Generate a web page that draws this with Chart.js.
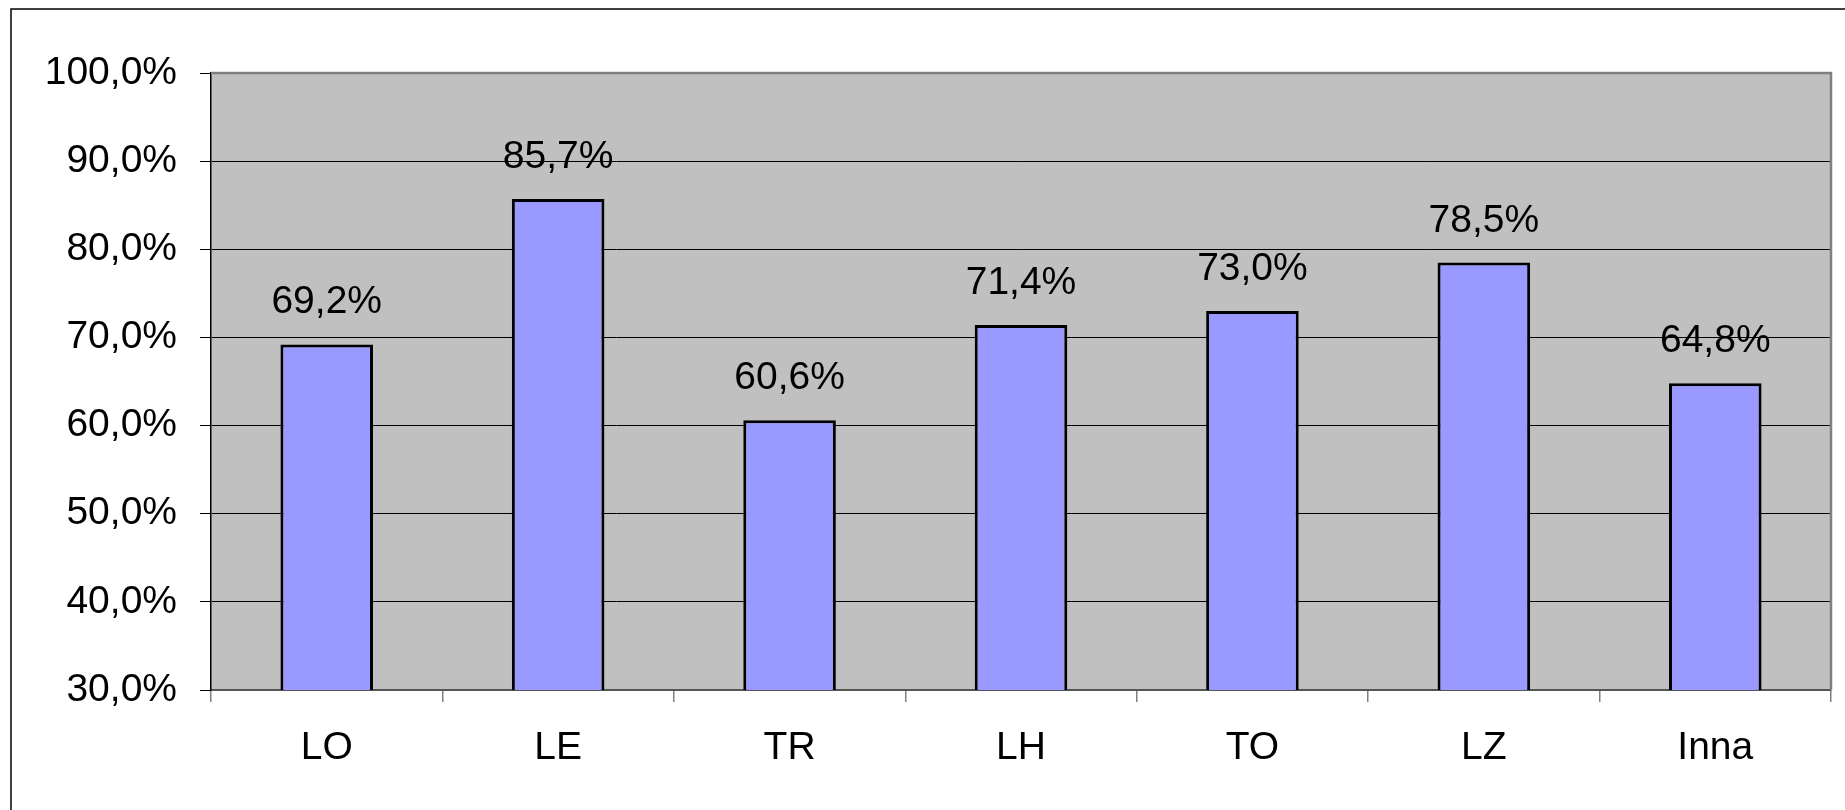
<!DOCTYPE html>
<html>
<head>
<meta charset="utf-8">
<script src="https://cdn.jsdelivr.net/npm/chart.js@4/dist/chart.umd.min.js"></script>
<style>
  html, body { margin: 0; padding: 0; background: #fff; }
  canvas { display: block; }
</style>
</head>
<body>
<canvas id="chart" width="1845" height="810"></canvas>
<script>
// Dados
const categorias = ['LO', 'LE', 'TR', 'LH', 'TO', 'LZ', 'Inna'];
const valores = [69.2, 85.7, 60.6, 71.4, 73.0, 78.5, 64.8];
const eixoMin = 30;
const eixoMax = 100;
const eixoPasso = 10;

const FONTE = '"Liberation Sans", Arial, sans-serif';

function pct(v) {
    return v.toFixed(1).replace('.', ',') + '%';
}

// Moldura externa + fundo cinza da área de plotagem
const fundoPlugin = {
    id: 'fundo',
    beforeDraw(chart) {
        const c = chart.ctx;
        const a = chart.chartArea;
        c.save();
        c.fillStyle = '#fff';
        c.fillRect(0, 0, chart.width, chart.height);
        c.strokeStyle = '#000';
        c.lineWidth = 1.5;
        c.strokeRect(11, 9, chart.width + 20, chart.height + 20);
        c.fillStyle = '#c0c0c0';
        c.fillRect(a.left, a.top, a.right - a.left, a.bottom - a.top);
        c.restore();
    },
    afterDraw(chart) {
        const c = chart.ctx;
        const a = chart.chartArea;
        c.save();
        c.strokeStyle = '#808080';
        c.lineWidth = 2.5;
        c.beginPath();
        c.moveTo(a.left, a.top);
        c.lineTo(a.right, a.top);
        c.lineTo(a.right, a.bottom);
        c.stroke();
        c.restore();
    }
};

// Rótulos de valor acima das barras
const rotulosPlugin = {
    id: 'rotulos',
    afterDatasetsDraw(chart) {
        const c = chart.ctx;
        const meta = chart.getDatasetMeta(0);
        c.save();
        c.font = '39px ' + FONTE;
        c.fillStyle = '#000';
        c.textAlign = 'center';
        c.textBaseline = 'alphabetic';
        meta.data.forEach((bar, i) => {
            c.fillText(pct(valores[i]), bar.x, bar.y - 31);
        });
        c.restore();
    }
};

new Chart(document.getElementById('chart'), {
    type: 'bar',
    data: {
        labels: categorias,
        datasets: [{
            data: valores,
            backgroundColor: '#9999ff',
            borderColor: '#000',
            borderWidth: 3,
            categoryPercentage: 1,
            barPercentage: 0.4
        }]
    },
    options: {
        responsive: false,
        animation: false,
        devicePixelRatio: 1,
        layout: { padding: { left: 0, top: 73, right: 14, bottom: 0 } },
        plugins: {
            legend: { display: false },
            tooltip: { enabled: false }
        },
        scales: {
            x: {
                grid: {
                    offset: true,
                    drawOnChartArea: false,
                    drawTicks: true,
                    tickLength: 12,
                    color: '#808080',
                    lineWidth: 1.5
                },
                border: { color: '#555', width: 2 },
                ticks: {
                    color: '#000',
                    padding: 23,
                    font: { family: FONTE, size: 39 }
                },
                afterFit(s) { s.height = 120; }
            },
            y: {
                min: eixoMin,
                max: eixoMax,
                grid: {
                    color: '#000',
                    lineWidth: 1,
                    tickLength: 11
                },
                border: { color: '#000', width: 1.5 },
                ticks: {
                    stepSize: eixoPasso,
                    color: '#000',
                    padding: 23,
                    font: { family: FONTE, size: 39 },
                    callback: (v) => pct(v)
                },
                afterFit(s) { s.width = 211; }
            }
        }
    },
    plugins: [fundoPlugin, rotulosPlugin]
});
</script>
</body>
</html>
